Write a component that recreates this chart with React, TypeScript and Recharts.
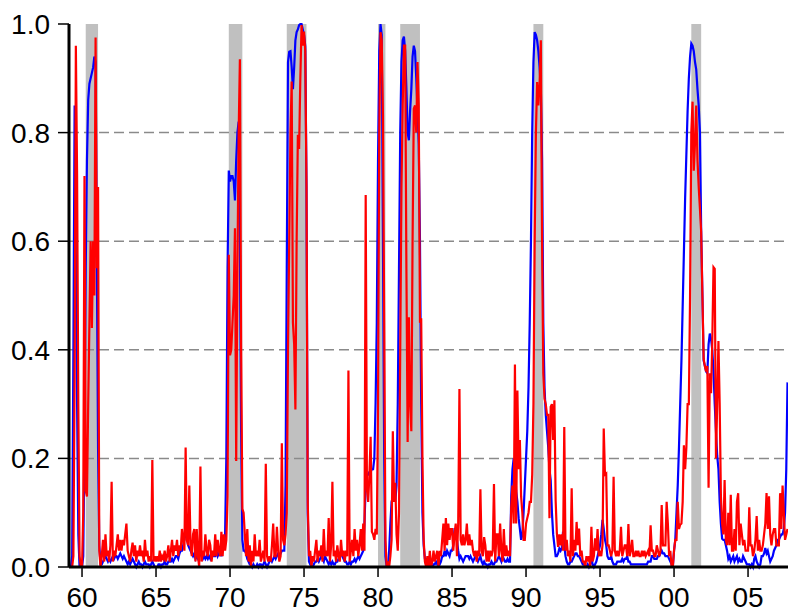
import { LineChart, Line, XAxis, YAxis, ReferenceArea, ReferenceLine } from "recharts";

// monthly series, first point is March 1959
const START_YEAR = 1959;
const START_MONTH = 3;

const blueProb = [
  0.0, 0.0, 0.02, 0.4, 0.85, 0.58, 0.3, 0.06, 0.0, 0.0, // 1959 (Mar-Dec)
  0.0, 0.02, 0.25, 0.55, 0.75, 0.86, 0.89, 0.9, 0.91, 0.92, 0.94, 0.93, // 1960
  0.57, 0.22, 0.04, 0.005, 0.005, 0.01, 0.015, 0.02, 0.015, 0.01, 0.015, 0.01, // 1961
  0.015, 0.02, 0.015, 0.02, 0.02, 0.015, 0.02, 0.025, 0.02, 0.015, 0.02, 0.015, // 1962
  0.01, 0.005, 0.01, 0.005, 0.01, 0.015, 0.01, 0.005, 0.0, 0.005, 0.01, 0.005, // 1963
  0.005, 0.0, 0.005, 0.01, 0.005, 0.005, 0.005, 0.0, 0.005, 0.01, 0.005, 0.0, // 1964
  0.0, 0.0, 0.005, 0.005, 0.0, 0.005, 0.005, 0.01, 0.005, 0.005, 0.01, 0.01, // 1965
  0.01, 0.015, 0.01, 0.015, 0.02, 0.02, 0.015, 0.025, 0.03, 0.03, 0.04, 0.05, // 1966
  0.07, 0.055, 0.04, 0.035, 0.03, 0.025, 0.02, 0.025, 0.015, 0.02, 0.015, 0.02, // 1967
  0.025, 0.02, 0.015, 0.02, 0.015, 0.02, 0.015, 0.02, 0.015, 0.02, 0.025, 0.02, // 1968
  0.02, 0.03, 0.02, 0.025, 0.03, 0.02, 0.03, 0.035, 0.06, 0.2, 0.55, 0.73, // 1969
  0.71, 0.72, 0.72, 0.71, 0.675, 0.75, 0.8, 0.82, 0.6, 0.25, 0.05, 0.03, // 1970
  0.03, 0.025, 0.015, 0.01, 0.005, 0.005, 0.0, 0.005, 0.0, 0.0, 0.005, 0.0, // 1971
  0.005, 0.005, 0.0, 0.005, 0.01, 0.005, 0.0, 0.005, 0.01, 0.015, 0.01, 0.015, // 1972
  0.02, 0.015, 0.02, 0.025, 0.02, 0.025, 0.03, 0.03, 0.03, 0.15, 0.55, 0.93, // 1973
  0.949, 0.95, 0.92, 0.88, 0.92, 0.97, 0.985, 0.99, 0.998, 1.0, 1.0, 0.99, // 1974
  0.98, 0.96, 0.7, 0.1, 0.01, 0.005, 0.0, 0.0, 0.005, 0.01, 0.01, 0.015, // 1975
  0.01, 0.015, 0.02, 0.015, 0.01, 0.02, 0.015, 0.01, 0.005, 0.01, 0.005, 0.01, // 1976
  0.005, 0.005, 0.01, 0.01, 0.015, 0.02, 0.03, 0.02, 0.015, 0.01, 0.01, 0.005, // 1977
  0.005, 0.01, 0.005, 0.01, 0.01, 0.015, 0.01, 0.015, 0.02, 0.015, 0.02, 0.025, // 1978
  0.03, 0.08, 0.15, 0.17, 0.17, 0.175, 0.175, 0.18, 0.18, 0.2, 0.3, 0.45, // 1979
  0.75, 0.95, 1.0, 0.98, 0.6, 0.2, 0.02, 0.0, 0.0, 0.03, 0.08, 0.12, // 1980
  0.13, 0.13, 0.12, 0.15, 0.3, 0.55, 0.8, 0.93, 0.97, 0.977, 0.95, 0.88, // 1981
  0.8, 0.786, 0.84, 0.88, 0.94, 0.96, 0.95, 0.9, 0.84, 0.78, 0.6, 0.3, // 1982
  0.1, 0.04, 0.015, 0.005, 0.0, 0.0, 0.005, 0.0, 0.0, 0.005, 0.005, 0.01, // 1983
  0.005, 0.01, 0.005, 0.01, 0.02, 0.02, 0.03, 0.02, 0.03, 0.025, 0.02, 0.03, // 1984
  0.03, 0.04, 0.07, 0.07, 0.05, 0.03, 0.015, 0.02, 0.015, 0.01, 0.015, 0.02, // 1985
  0.02, 0.02, 0.015, 0.02, 0.015, 0.01, 0.015, 0.02, 0.015, 0.01, 0.015, 0.02, // 1986
  0.01, 0.005, 0.01, 0.005, 0.005, 0.0, 0.005, 0.005, 0.01, 0.005, 0.005, 0.01, // 1987
  0.01, 0.015, 0.02, 0.015, 0.01, 0.02, 0.015, 0.01, 0.01, 0.015, 0.01, 0.01, // 1988
  0.13, 0.18, 0.2, 0.19, 0.14, 0.12, 0.09, 0.07, 0.05, 0.06, 0.1, 0.15, // 1989
  0.2, 0.25, 0.33, 0.45, 0.6, 0.8, 0.93, 0.985, 0.98, 0.97, 0.95, 0.92, // 1990
  0.88, 0.75, 0.45, 0.33, 0.28, 0.25, 0.22, 0.18, 0.16, 0.1, 0.06, 0.04, // 1991
  0.02, 0.02, 0.025, 0.034, 0.03, 0.035, 0.065, 0.04, 0.02, 0.01, 0.005, 0.005, // 1992
  0.01, 0.01, 0.015, 0.02, 0.025, 0.025, 0.02, 0.02, 0.015, 0.01, 0.005, 0.005, // 1993
  0.0, 0.0, 0.005, 0.0, 0.005, 0.015, 0.005, 0.0, 0.005, 0.01, 0.02, 0.03, // 1994
  0.04, 0.06, 0.087, 0.07, 0.05, 0.04, 0.02, 0.015, 0.015, 0.02, 0.01, 0.005, // 1995
  0.005, 0.005, 0.01, 0.01, 0.01, 0.01, 0.015, 0.01, 0.015, 0.015, 0.02, 0.01, // 1996
  0.01, 0.005, 0.005, 0.005, 0.005, 0.005, 0.005, 0.005, 0.005, 0.005, 0.005, 0.005, // 1997
  0.005, 0.005, 0.005, 0.01, 0.01, 0.01, 0.02, 0.02, 0.015, 0.015, 0.015, 0.02, // 1998
  0.02, 0.025, 0.03, 0.025, 0.025, 0.02, 0.02, 0.02, 0.015, 0.01, 0.005, 0.0, // 1999
  0.03, 0.05, 0.1, 0.15, 0.22, 0.3, 0.38, 0.48, 0.58, 0.68, 0.76, 0.84, // 2000
  0.9, 0.94, 0.964, 0.96, 0.95, 0.93, 0.916, 0.88, 0.85, 0.8, 0.62, 0.5, // 2001
  0.38, 0.37, 0.36, 0.357, 0.41, 0.43, 0.42, 0.4, 0.36, 0.3, 0.25, 0.205, // 2002
  0.18, 0.12, 0.08, 0.052, 0.05, 0.05, 0.04, 0.03, 0.015, 0.02, 0.01, 0.015, // 2003
  0.02, 0.01, 0.015, 0.02, 0.01, 0.015, 0.01, 0.01, 0.02, 0.015, 0.01, 0.005, // 2004
  0.005, 0.005, 0.0, 0.005, 0.0, 0.015, 0.02, 0.01, 0.005, 0.0, 0.005, 0.02, // 2005
  0.02, 0.025, 0.035, 0.025, 0.03, 0.02, 0.01, 0.015, 0.02, 0.03, 0.035, 0.04, // 2006
  0.05, 0.05, 0.055, 0.06, 0.06, 0.07, 0.1, 0.18, 0.34, // 2007 (Jan-Sep)
];

const redProb = [
  0.0, 0.0, 0.0, 0.02, 0.35, 0.96, 0.72, 0.3, 0.02, 0.0, // 1959 (Mar-Dec)
  0.0, 0.1, 0.72, 0.14, 0.13, 0.3, 0.45, 0.6, 0.44, 0.6, 0.5, 0.975, // 1960
  0.55, 0.7, 0.03, 0.0, 0.02, 0.05, 0.01, 0.06, 0.02, 0.03, 0.01, 0.04, // 1961
  0.157, 0.01, 0.03, 0.02, 0.04, 0.06, 0.03, 0.05, 0.03, 0.05, 0.04, 0.06, // 1962
  0.08, 0.03, 0.02, 0.01, 0.03, 0.045, 0.02, 0.04, 0.01, 0.03, 0.02, 0.04, // 1963
  0.02, 0.03, 0.01, 0.05, 0.02, 0.03, 0.01, 0.02, 0.01, 0.197, 0.01, 0.02, // 1964
  0.01, 0.02, 0.01, 0.03, 0.01, 0.02, 0.015, 0.03, 0.01, 0.02, 0.04, 0.01, // 1965
  0.03, 0.05, 0.02, 0.04, 0.03, 0.05, 0.02, 0.04, 0.03, 0.07, 0.05, 0.03, // 1966
  0.22, 0.05, 0.04, 0.15, 0.04, 0.02, 0.06, 0.07, 0.01, 0.07, 0.02, 0.0, // 1967
  0.185, 0.01, 0.03, 0.02, 0.06, 0.03, 0.02, 0.05, 0.04, 0.01, 0.03, 0.02, // 1968
  0.06, 0.02, 0.05, 0.03, 0.02, 0.065, 0.02, 0.06, 0.03, 0.05, 0.13, 0.575, // 1969
  0.39, 0.4, 0.45, 0.5, 0.624, 0.195, 0.55, 0.8, 0.935, 0.4, 0.107, 0.1, // 1970
  0.06, 0.02, 0.07, 0.01, 0.04, 0.0, 0.03, 0.01, 0.06, 0.02, 0.03, 0.02, // 1971
  0.05, 0.01, 0.02, 0.03, 0.01, 0.19, 0.02, 0.01, 0.02, 0.01, 0.04, 0.08, // 1972
  0.02, 0.02, 0.074, 0.03, 0.01, 0.02, 0.228, 0.05, 0.04, 0.06, 0.1, 0.4, // 1973
  0.6, 0.8, 0.894, 0.45, 0.41, 0.29, 0.6, 0.796, 0.77, 0.9, 0.998, 0.96, // 1974
  0.986, 0.95, 0.7, 0.12, 0.02, 0.03, 0.0, 0.02, 0.01, 0.03, 0.05, 0.01, // 1975
  0.03, 0.02, 0.04, 0.01, 0.07, 0.02, 0.03, 0.02, 0.09, 0.01, 0.04, 0.157, // 1976
  0.02, 0.03, 0.01, 0.04, 0.02, 0.01, 0.05, 0.02, 0.03, 0.01, 0.03, 0.02, // 1977
  0.362, 0.01, 0.03, 0.05, 0.02, 0.07, 0.03, 0.05, 0.02, 0.04, 0.07, 0.03, // 1978
  0.08, 0.03, 0.685, 0.143, 0.12, 0.17, 0.24, 0.065, 0.06, 0.05, 0.07, 0.06, // 1979
  0.3, 0.8, 0.985, 0.97, 0.83, 0.45, 0.05, 0.0, 0.01, 0.0, 0.02, 0.05, // 1980
  0.25, 0.12, 0.155, 0.06, 0.03, 0.1, 0.4, 0.7, 0.85, 0.96, 0.96, 0.55, // 1981
  0.23, 0.46, 0.3, 0.25, 0.6, 0.844, 0.85, 0.8, 0.93, 0.85, 0.45, 0.458, // 1982
  0.2, 0.05, 0.01, 0.0, 0.02, 0.0, 0.03, 0.0, 0.01, 0.03, 0.01, 0.02, // 1983
  0.03, 0.0, 0.03, 0.02, 0.05, 0.08, 0.03, 0.09, 0.04, 0.08, 0.05, 0.07, // 1984
  0.07, 0.03, 0.06, 0.08, 0.02, 0.08, 0.328, 0.05, 0.04, 0.06, 0.04, 0.05, // 1985
  0.08, 0.04, 0.06, 0.04, 0.05, 0.03, 0.02, 0.03, 0.01, 0.03, 0.02, 0.143, // 1986
  0.03, 0.02, 0.055, 0.04, 0.01, 0.03, 0.01, 0.03, 0.02, 0.03, 0.153, 0.01, // 1987
  0.06, 0.06, 0.02, 0.08, 0.03, 0.01, 0.07, 0.02, 0.04, 0.02, 0.03, 0.02, // 1988
  0.11, 0.15, 0.08, 0.373, 0.08, 0.325, 0.18, 0.234, 0.13, 0.1, 0.05, 0.05, // 1989
  0.08, 0.09, 0.1, 0.12, 0.12, 0.17, 0.3, 0.6, 0.8, 0.893, 0.85, 0.89, // 1990
  0.97, 0.6, 0.357, 0.31, 0.3, 0.28, 0.28, 0.09, 0.295, 0.3, 0.234, 0.307, // 1991
  0.123, 0.062, 0.037, 0.06, 0.04, 0.06, 0.03, 0.258, 0.03, 0.05, 0.02, 0.03, // 1992
  0.01, 0.145, 0.02, 0.05, 0.03, 0.083, 0.04, 0.071, 0.02, 0.03, 0.01, 0.01, // 1993
  0.0, 0.02, 0.01, 0.02, 0.0, 0.074, 0.01, 0.02, 0.053, 0.03, 0.07, 0.02, // 1994
  0.03, 0.02, 0.04, 0.255, 0.17, 0.172, 0.04, 0.04, 0.03, 0.02, 0.03, 0.166, // 1995
  0.03, 0.02, 0.03, 0.02, 0.03, 0.074, 0.02, 0.03, 0.04, 0.04, 0.02, 0.079, // 1996
  0.02, 0.03, 0.05, 0.02, 0.02, 0.03, 0.02, 0.03, 0.02, 0.02, 0.03, 0.02, // 1997
  0.03, 0.02, 0.025, 0.03, 0.02, 0.077, 0.03, 0.03, 0.02, 0.02, 0.04, 0.03, // 1998
  0.02, 0.03, 0.114, 0.04, 0.04, 0.04, 0.12, 0.08, 0.02, 0.03, 0.0, 0.0, // 1999
  0.03, 0.05, 0.05, 0.12, 0.07, 0.078, 0.08, 0.12, 0.224, 0.18, 0.22, 0.3, // 2000
  0.3, 0.5, 0.8, 0.857, 0.73, 0.78, 0.85, 0.75, 0.7, 0.66, 0.617, 0.5, // 2001
  0.383, 0.37, 0.36, 0.37, 0.146, 0.357, 0.32, 0.415, 0.552, 0.549, 0.2, 0.3, // 2002
  0.416, 0.3, 0.13, 0.08, 0.06, 0.16, 0.05, 0.04, 0.1, 0.04, 0.133, 0.03, // 2003
  0.03, 0.07, 0.03, 0.12, 0.136, 0.04, 0.08, 0.06, 0.04, 0.05, 0.03, 0.03, // 2004
  0.03, 0.11, 0.04, 0.04, 0.02, 0.03, 0.05, 0.094, 0.03, 0.05, 0.03, 0.03, // 2005
  0.04, 0.06, 0.08, 0.136, 0.07, 0.13, 0.06, 0.04, 0.06, 0.07, 0.07, 0.04, // 2006
  0.04, 0.04, 0.136, 0.07, 0.15, 0.1, 0.05, 0.06, 0.07, // 2007 (Jan-Sep)
];

// NBER recessions, [start, end] as decimal years
const recessions = [
  [1960.25, 1961.083],
  [1969.917, 1970.833],
  [1973.833, 1975.167],
  [1980.0, 1980.5],
  [1981.5, 1982.833],
  [1990.5, 1991.167],
  [2001.167, 2001.833],
];

const xTicks = [1960, 1965, 1970, 1975, 1980, 1985, 1990, 1995, 2000, 2005];
const yTicks = [0, 0.2, 0.4, 0.6, 0.8, 1.0];
const gridValues = [0.2, 0.4, 0.6, 0.8];

const data = blueProb.map((b, i) => ({
  t: START_YEAR + (START_MONTH - 1 + i) / 12,
  blue: b,
  red: redProb[i],
}));

const font = "'Liberation Sans', Arial, sans-serif";
const tickStyle = { fill: "#000", fontSize: 28, fontFamily: font };

export default function App() {
  return (
    <div style={{ width: 788, height: 613, background: "#fff" }}>
      <style>{"body{margin:0;overflow:hidden;background:#fff}"}</style>
      <LineChart
        width={788}
        height={613}
        data={data}
        margin={{ top: 24, right: 0, bottom: 0, left: 0 }}
      >
        {recessions.map(([a, b]) => (
          <ReferenceArea
            key={a}
            x1={a}
            x2={b}
            y1={0}
            y2={1}
            fill="#c0c0c0"
            fillOpacity={1}
            stroke="none"
          />
        ))}
        {gridValues.map((v) => (
          <ReferenceLine
            key={v}
            y={v}
            stroke="#8a8a8a"
            strokeWidth={1.5}
            strokeDasharray="10 5"
          />
        ))}
        <XAxis
          dataKey="t"
          type="number"
          domain={[1959.12, 2007.7]}
          allowDataOverflow
          ticks={xTicks}
          tickFormatter={(v) => String(v % 100).padStart(2, "0")}
          height={46}
          axisLine={{ stroke: "#000", strokeWidth: 3 }}
          tickLine={{ stroke: "#000", strokeWidth: 1.5 }}
          tickSize={10}
          tickMargin={10}
          tick={tickStyle}
        />
        <YAxis
          type="number"
          domain={[0, 1]}
          ticks={yTicks}
          width={69}
          tickFormatter={(v) => v.toFixed(1)}
          axisLine={{ stroke: "#000", strokeWidth: 3 }}
          tickLine={{ stroke: "#000", strokeWidth: 1.5 }}
          tickSize={11}
          tickMargin={8}
          tick={tickStyle}
        />
        <Line
          dataKey="blue"
          stroke="#0000ff"
          strokeWidth={2.2}
          dot={false}
          isAnimationActive={false}
        />
        <Line
          dataKey="red"
          stroke="#ff0000"
          strokeWidth={2.2}
          dot={false}
          isAnimationActive={false}
        />
      </LineChart>
    </div>
  );
}
